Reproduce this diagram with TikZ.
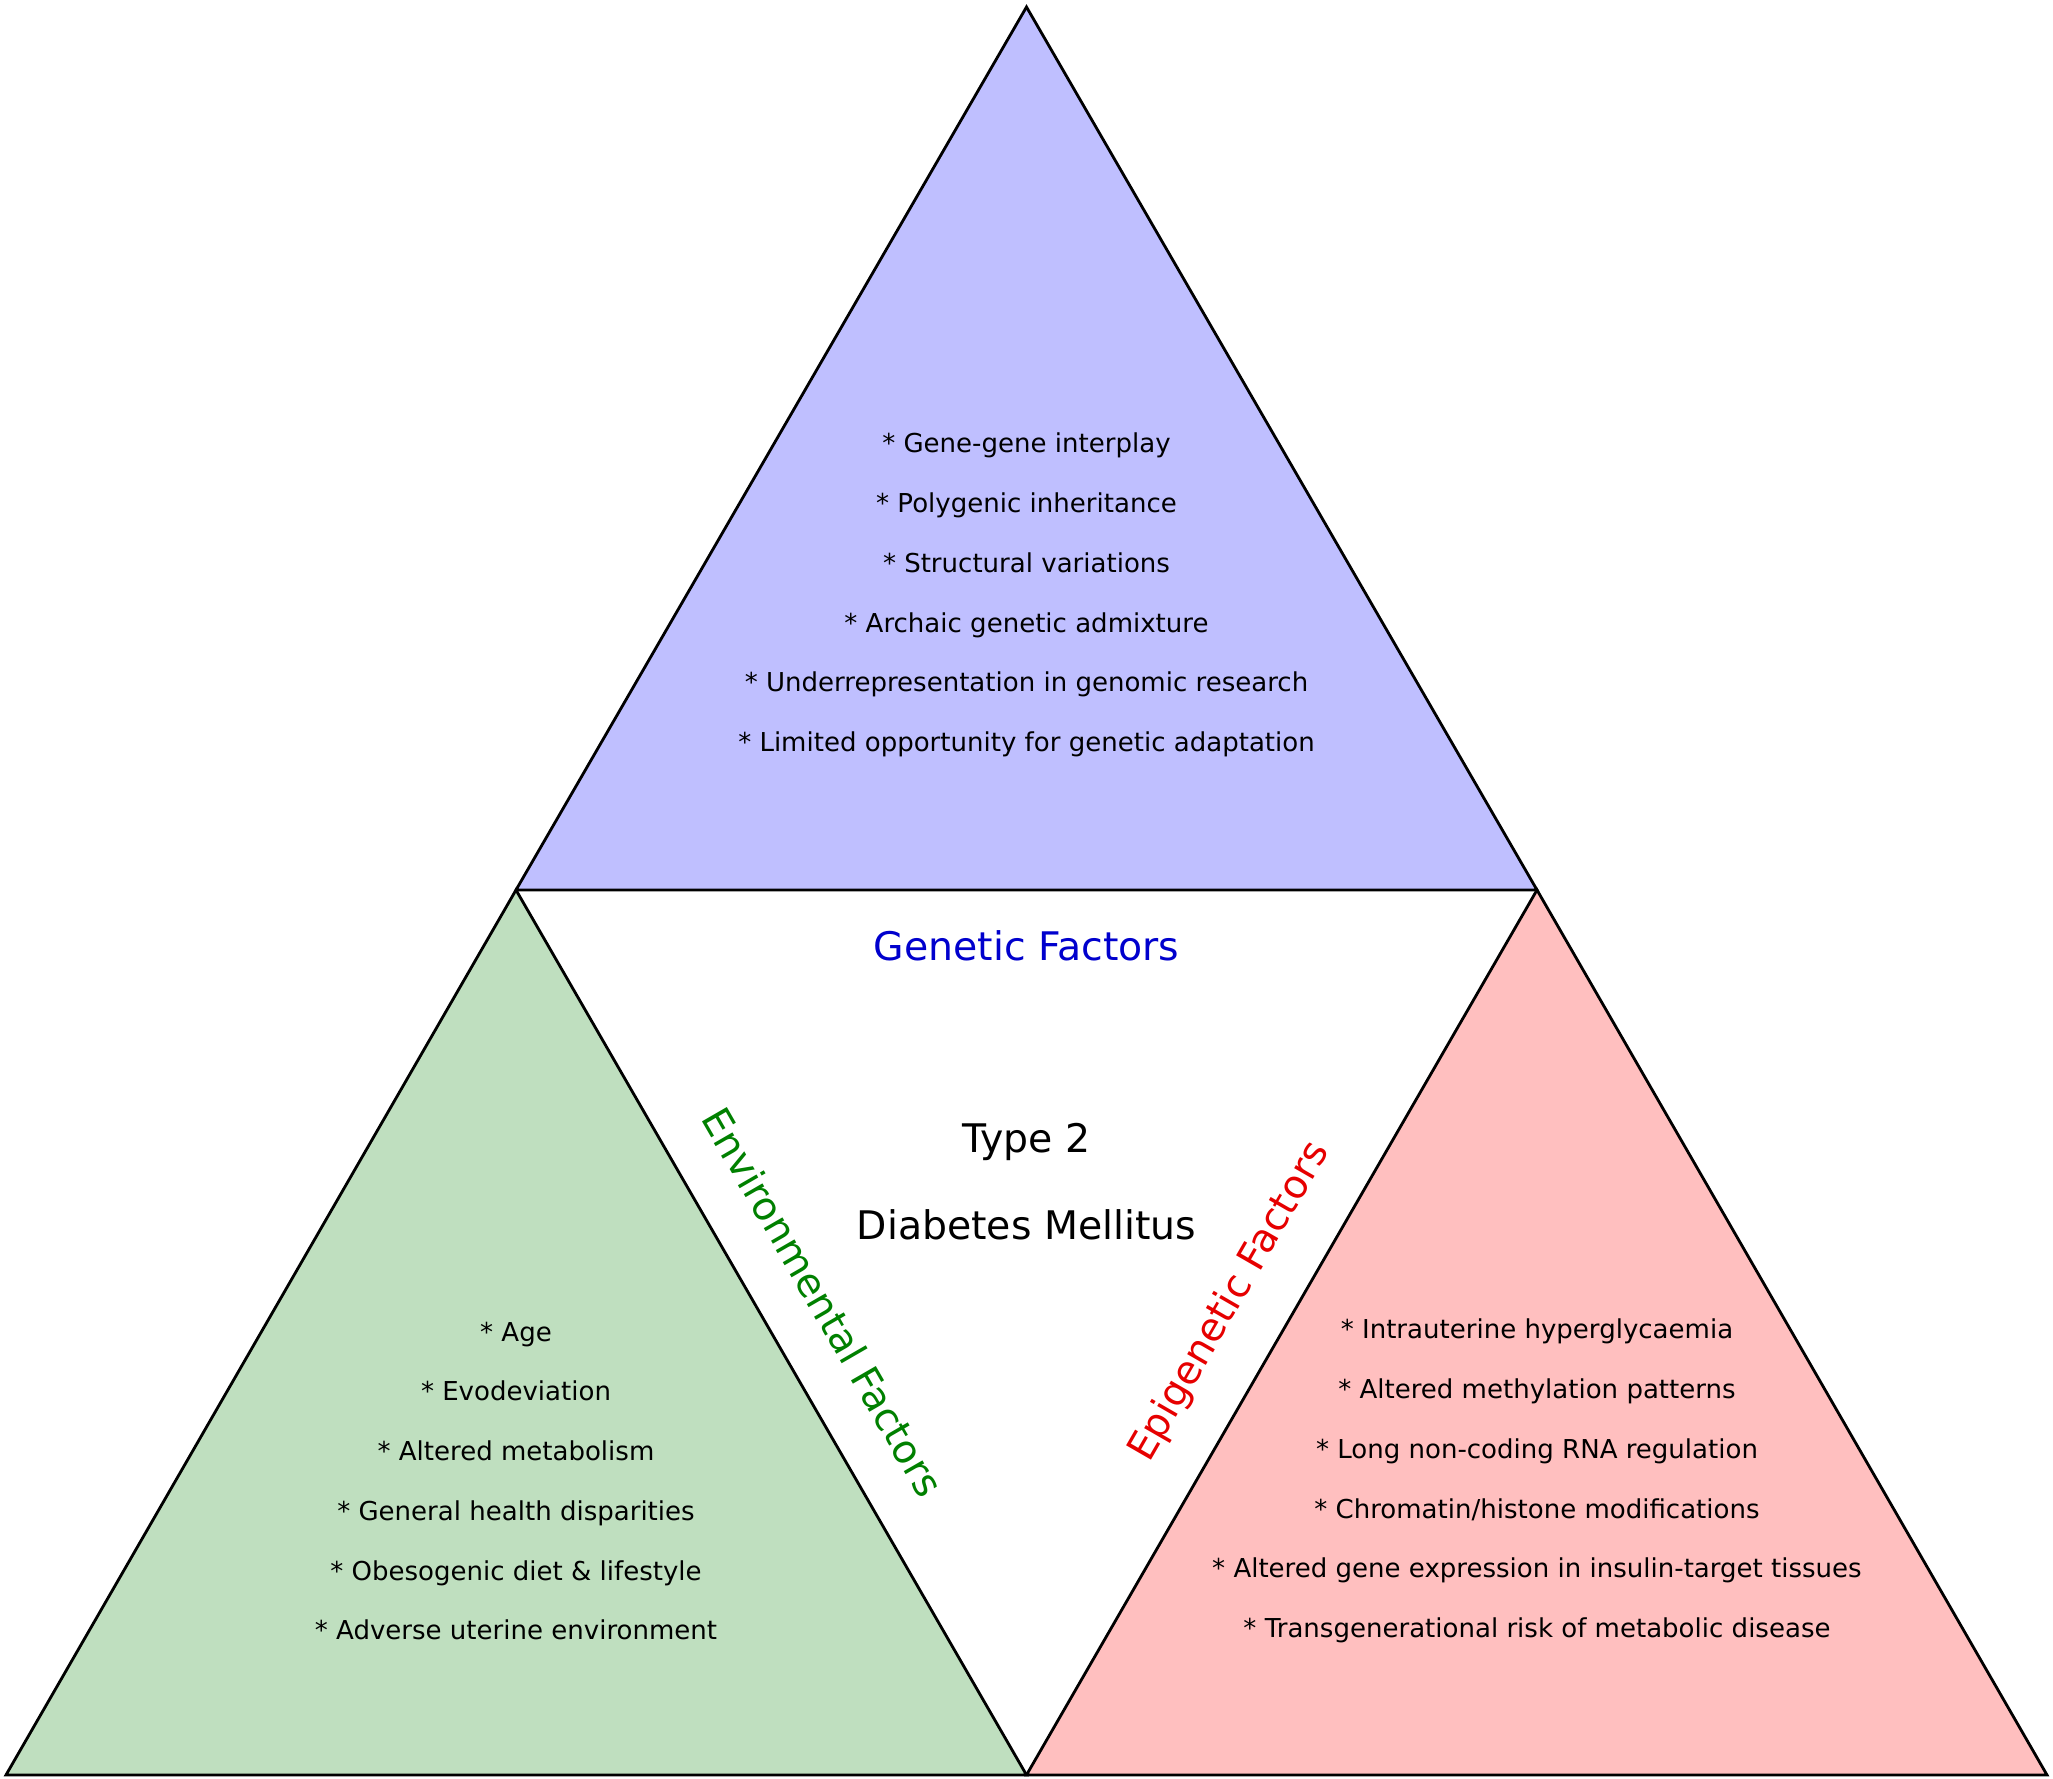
\documentclass[tikz,border=0pt]{standalone}
\usepackage{fontspec}
\setmainfont{DejaVu Sans}
\usepackage{xcolor}
\usepackage{tikz}
\usetikzlibrary{positioning}
\definecolor{genfill}{HTML}{BFBFFF}
\definecolor{envfill}{HTML}{BFDFBF}
\definecolor{epifill}{HTML}{FFBFBF}
\definecolor{gentext}{HTML}{0000CD}
\definecolor{envtext}{HTML}{008000}
\definecolor{epitext}{HTML}{E60000}

\begin{document}
\begin{tikzpicture}[
    x = 0.01cm, y = 0.01cm,
    edge/.style = {line width=0.8pt, draw=black, line join=miter},
    itemlist/.style = {align=center, inner sep=0pt, font=\fontsize{7.4}{17}\selectfont},
    headline/.style = {inner sep=0pt, anchor=base, font=\fontsize{11.2}{13}\selectfont},
    sidehead/.style = {inner sep=0pt, font=\fontsize{11.2}{13}\selectfont}
]
    \useasboundingbox (0,0) rectangle (2053,1779);

    % 顶点
    \coordinate (top)  at (1026.5,1772);
    \coordinate (midL) at (516,889);
    \coordinate (midR) at (1537,889);
    \coordinate (botL) at (6,4);
    \coordinate (botM) at (1026.5,4);
    \coordinate (botR) at (2047,4);

    % 三个三角形
    \filldraw[edge, fill=genfill] (top) -- (midL) -- (midR) -- cycle;
    \filldraw[edge, fill=envfill] (midL) -- (botL) -- (botM) -- cycle;
    \filldraw[edge, fill=epifill] (midR) -- (botM) -- (botR) -- cycle;

    % 列表
    \node[itemlist] (genlist) at (1026.5,1184) {* Gene-gene interplay\\
        * Polygenic inheritance\\
        * Structural variations\\
        * Archaic genetic admixture\\
        * Underrepresentation in genomic research\\
        * Limited opportunity for genetic adaptation};
    \node[itemlist] (envlist) at (516,298) {* Age\\
        * Evodeviation\\
        * Altered metabolism\\
        * General health disparities\\
        * Obesogenic diet \& lifestyle\\
        * Adverse uterine environment};
    \node[itemlist] (epilist) at (1537,298) {* Intrauterine hyperglycaemia\\
        * Altered methylation patterns\\
        * Long non-coding RNA regulation\\
        * Chromatin/histone modifications\\
        * Altered gene expression in insulin-target tissues\\
        * Transgenerational risk of metabolic disease};

    % 标题
    \node[headline, text=gentext] (genhead) at (1026.5,818) {Genetic Factors};
    \node[headline] (typetwo) at (1026.5,626) {Type 2};
    \node[headline] (diabetes) at (1026.5,539) {Diabetes Mellitus};
    \node[sidehead, text=envtext, rotate=-60] (envhead) at (823,477) {Environmental Factors};
    \node[sidehead, text=epitext, rotate=60] (epihead) at (1230,477) {Epigenetic Factors};
\end{tikzpicture}
\end{document}
